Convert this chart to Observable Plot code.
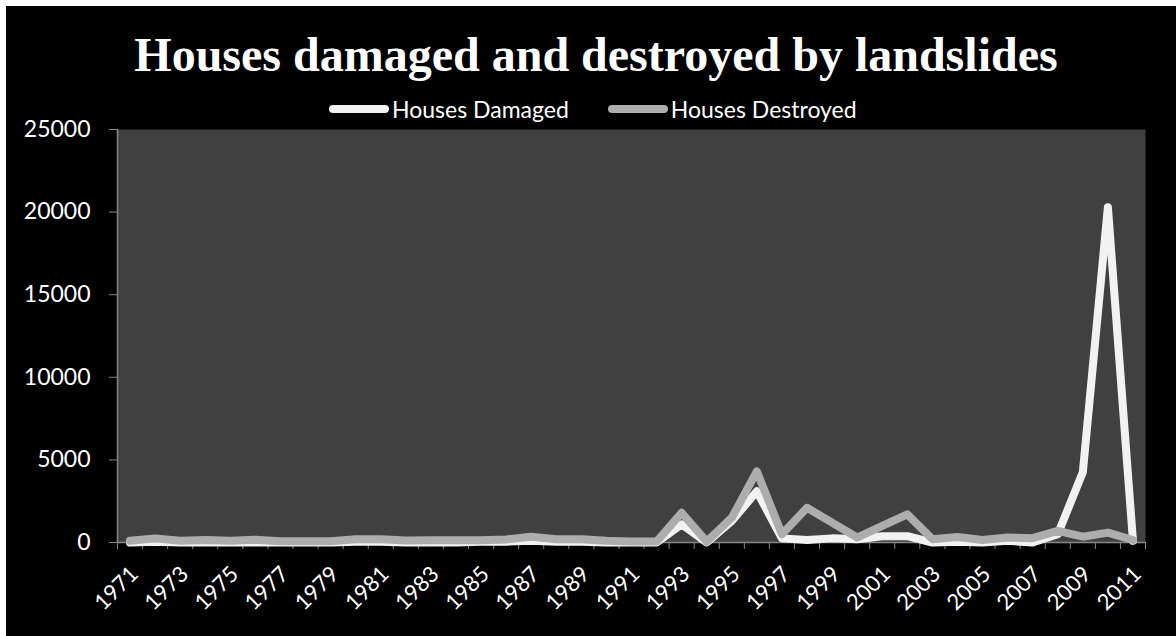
<!DOCTYPE html>
<html><head><meta charset="utf-8">
<script src="https://cdn.jsdelivr.net/npm/d3@7"></script>
<script src="https://cdn.jsdelivr.net/npm/@observablehq/plot@0.6"></script>
<style>
html,body{margin:0;padding:0;background:#fff;width:1176px;height:636px;overflow:hidden;}
#bg{position:absolute;left:6px;top:6px;width:1170px;height:630px;background:#000;}
#title{position:absolute;left:0;width:1192px;top:31px;text-align:center;font:bold 48px "Liberation Serif";color:#fff;line-height:48px;white-space:nowrap;}
#legend{position:absolute;top:96px;left:329px;height:26px;display:flex;align-items:center;font:23px Lato;color:#fff;white-space:nowrap;}
.item{display:flex;align-items:center;margin-right:39px;}
.sw{display:inline-block;width:60px;height:8px;border-radius:4px;margin-right:3px;}
#chart{position:absolute;left:6px;top:100px;}
</style></head><body>
<div id="bg"></div>
<div id="title">Houses damaged and destroyed by landslides</div>
<div id="legend"></div>
<div id="chart"></div>
<script>
const years = [1971,1972,1973,1974,1975,1976,1977,1978,1979,1980,
  1981,1982,1983,1984,1985,1986,1987,1988,1989,1990,
  1991,1992,1993,1994,1995,1996,1997,1998,1999,2000,
  2001,2002,2003,2004,2005,2006,2007,2008,2009,2010,2011];
const housesDamaged = [0,50,0,0,0,0,0,0,0,50,
  50,0,0,0,50,50,100,50,50,0,
  0,0,1100,0,1300,3100,250,150,250,200,
  380,380,0,50,0,100,0,500,4250,20300,100];
const housesDestroyed = [100,250,100,150,100,160,80,80,80,200,
  200,120,130,130,140,180,350,200,200,100,
  60,60,1800,50,1500,4300,500,2100,1200,300,
  1000,1700,200,330,150,300,260,700,350,600,150];
const xTickLabels = [1971,1973,1975,1977,1979,1981,1983,1985,1987,1989,1991,1993,1995,1997,1999,2001,2003,2005,2007,2009,2011];
const yTickLabels = [0,5000,10000,15000,20000,25000];
const seriesNames = ["Houses Damaged","Houses Destroyed"];
const seriesColors = ["#F2F2F2","#ADADAD"];

const table = years.map((y,i)=>({year:y, damaged:housesDamaged[i], destroyed:housesDestroyed[i]}));
const boundaries = years.map(y=>y-0.5).concat([years[years.length-1]+0.5]);

const legend = document.getElementById("legend");
seriesNames.forEach((n,i)=>{
  const it = document.createElement("div"); it.className="item";
  const sw = document.createElement("span"); sw.className="sw"; sw.style.background=seriesColors[i];
  const tx = document.createElement("span"); tx.textContent=n;
  it.appendChild(sw); it.appendChild(tx); legend.appendChild(it);
});

const lineOpts = {strokeWidth: 8, strokeLinejoin: "round", strokeLinecap: "round"};
const chart = Plot.plot({
  width: 1170, height: 536,
  marginLeft: 111, marginRight: 31, marginTop: 29, marginBottom: 94,
  style: {background: "transparent", fontFamily: "Lato", color: "white", overflow: "visible"},
  x: {domain: [boundaries[0], boundaries[boundaries.length-1]]},
  y: {domain: [0, 25000]},
  marks: [
    Plot.frame({fill: "#404040", stroke: "none"}),
    Plot.axisY({ticks: yTickLabels, tickSize: 8, tickPadding: 19, stroke: "#868686", fill: "white", tickFormat: d => String(d), fontSize: 23, label: null}),
    Plot.axisX({ticks: boundaries, tickSize: 7, stroke: "#868686", fill: "none", label: null}),
    Plot.axisX({ticks: xTickLabels, tickSize: 0, tickRotate: -45, tickPadding: 28, dx: 4.5, fill: "white", stroke: "none", tickFormat: d => String(d), fontSize: 22, label: null}),
    Plot.ruleX([boundaries[0]], {stroke: "#868686", strokeWidth: 1.5}),
    Plot.ruleY([0], {stroke: "#868686", strokeWidth: 1.5}),
    Plot.lineY(table, {x: "year", y: "damaged", stroke: seriesColors[0], ...lineOpts}),
    Plot.lineY(table, {x: "year", y: "destroyed", stroke: seriesColors[1], ...lineOpts})
  ]
});
document.getElementById("chart").appendChild(chart);
</script>
</body></html>
